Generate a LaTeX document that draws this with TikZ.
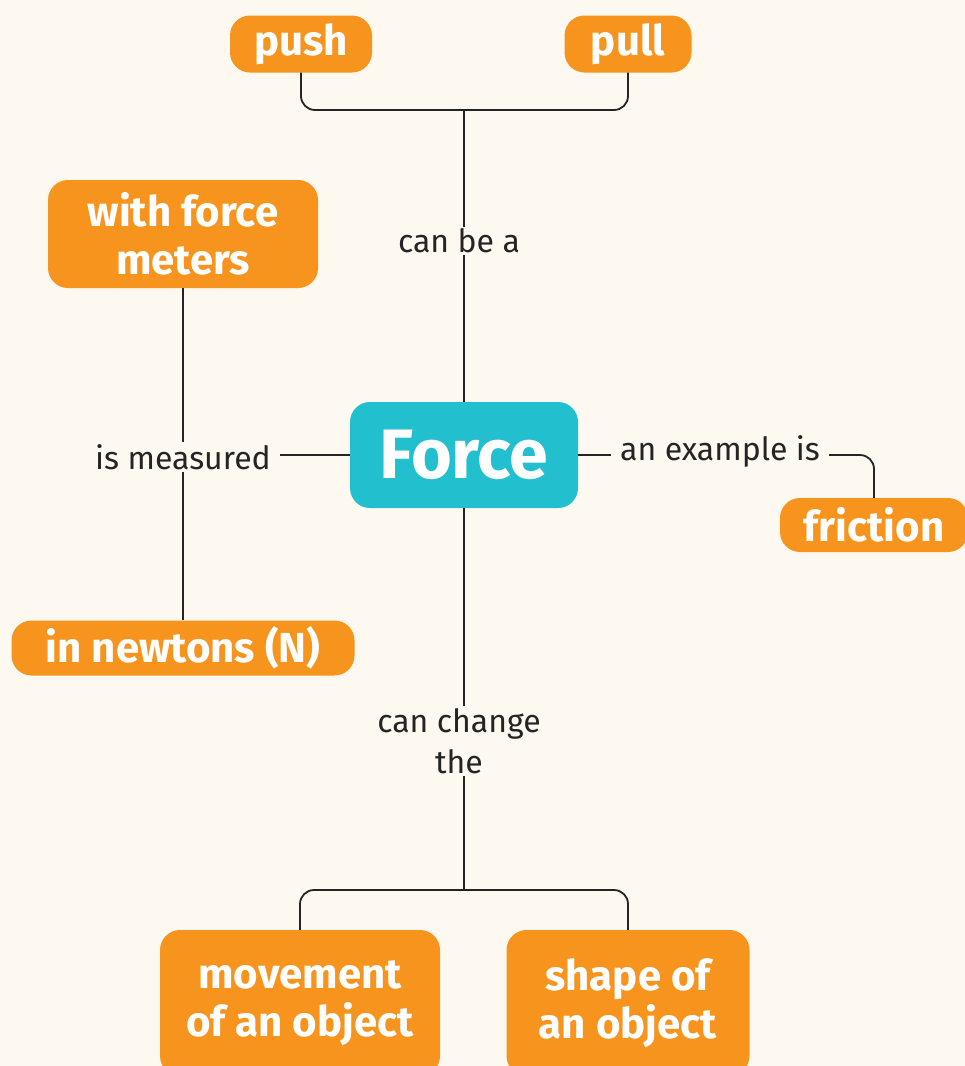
\documentclass[tikz,border=0pt]{standalone}
\usepackage{fontspec}
\setmainfont{Fira Sans}
\definecolor{bgcream}{HTML}{FDF9F1}
\definecolor{boxorange}{HTML}{F7941D}
\definecolor{forcecyan}{HTML}{22BFCF}
\definecolor{inkgray}{HTML}{262324}
\begin{document}
\begin{tikzpicture}[x=1pt,y=-1pt,
  box/.style={fill=boxorange, text=white, font=\fontsize{42}{48}\selectfont\bfseries, rounded corners=20pt, align=center, inner sep=0pt},
  lbl/.style={text=inkgray, font=\fontsize{32}{41}\selectfont, align=center, inner xsep=9pt, inner ysep=2pt},
  link/.style={draw=inkgray, line width=1.8pt, rounded corners=14pt}]
\clip (0,0) rectangle (965,1066);
\fill[bgcream] (0,0) rectangle (965,1066);
\node[box, minimum width=142, minimum height=57] (push) at (301,44) {push};
\node[box, minimum width=127, minimum height=57] (pull) at (628,44) {pull};
\node[box, minimum width=270, minimum height=108] (meters) at (183,234) {with force\\meters};
\node[box, minimum width=343, minimum height=55] (newtons) at (183,648) {in newtons (N)};
\node[box, minimum width=188, minimum height=54] (friction) at (874,525) {friction};
\node[box, fill=forcecyan, minimum width=228, minimum height=106, font=\fontsize{70}{70}\selectfont\bfseries] (force) at (464,455) {Force};
\node[box, minimum width=280, minimum height=146] (movement) at (300,1003) {movement\\of an object};
\node[box, minimum width=243, minimum height=146] (shape) at (628,1003) {shape of\\an object};
\node[lbl] (canbe) at (459,241) {can be a};
\node[lbl] (measured) at (183,457) {is measured};
\node[lbl] (example) at (720,451) {an example is};
\node[lbl] (change) at (459,741) {can change\\the};
\coordinate (topjoin) at (464,110);
\coordinate (lowjoin) at (464,890);
\draw[link] (push.south) |- (topjoin) -| (pull.south);
\draw[link] (topjoin) -- (topjoin |- canbe.north);
\draw[link] (topjoin |- canbe.south) -- (force.north);
\draw[link] (meters.south) -- (measured.north);
\draw[link] (measured.south) -- (newtons.north);
\draw[link] (measured.east |- force.west) -- (force.west);
\draw[link] (force.east) -- (force.east -| example.west);
\draw[link] (force.east -| example.east) -| (friction.north);
\draw[link] (force.south) -- (force.south |- change.north);
\draw[link] (force.south |- change.south) -- (lowjoin);
\draw[link] (movement.north) |- (lowjoin) -| (shape.north);
\end{tikzpicture}
\end{document}
